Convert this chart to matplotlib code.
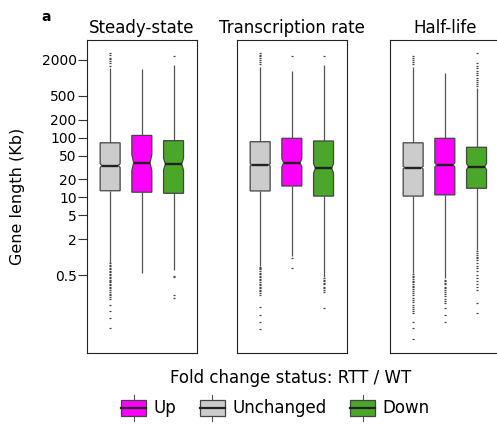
import matplotlib
matplotlib.use('Agg')
import matplotlib.pyplot as plt
from matplotlib.patches import Patch, Rectangle
from matplotlib.lines import Line2D
from matplotlib.legend_handler import HandlerBase

# Panels and groups (left to right inside each panel)
PANELS = ['Steady-state', 'Transcription rate', 'Half-life']
GROUPS = ['Unchanged', 'Up', 'Down']
COLORS = ['#cccccc', '#ff00ff', '#4aa72a']

# Box statistics per panel: [Unchanged, Up, Down], gene length in Kb
MEDIAN = [[34, 38, 36], [35, 38, 30.7], [31.4, 35, 32.7]]
Q1 = [[12.9, 12.2, 11.7], [12.8, 15.5, 10.5], [10.5, 11.0, 14.2]]
Q3 = [[82, 109, 89], [85.5, 97.5, 88], [82, 97.5, 69]]
WHIS_LO = [[0.8, 0.55, 0.6], [0.71, 1.06, 0.47], [0.54, 0.44, 1.31]]
WHIS_HI = [[1470, 1400, 1650], [1545, 1325, 1650], [1545, 1200, 670]]
NOTCH_LO = [[31.5, 28.0, 28.6], [33.5, 32.5, 25.4], [29.8, 32.3, 29.0]]
NOTCH_HI = [[36.7, 52.0, 45.4], [36.6, 44.5, 37.1], [33.1, 37.9, 36.9]]

# Outliers
SS_FLIERS = [
    [1600, 1750, 1900, 2050, 2200, 2400, 2600,
     0.78, 0.74, 0.7, 0.66, 0.62, 0.59, 0.56, 0.53, 0.5, 0.47, 0.45, 0.42, 0.4,
     0.38, 0.36, 0.34, 0.32, 0.3, 0.28, 0.26, 0.245, 0.23, 0.215, 0.2,
     0.16, 0.125, 0.097, 0.064],
    [],
    [2300, 0.48, 0.46, 0.23, 0.21],
]
TR_FLIERS = [
    [1700, 1850, 2000, 2150, 2300, 2450, 2600,
     0.69, 0.65, 0.62, 0.58, 0.55, 0.52, 0.49, 0.46, 0.43, 0.41, 0.38, 0.36,
     0.34, 0.32, 0.3, 0.28, 0.265, 0.25, 0.235, 0.148, 0.107, 0.083, 0.062],
    [2300, 0.97, 0.66],
    [2300, 0.45, 0.42, 0.4, 0.37, 0.35, 0.32, 0.3, 0.28, 0.26, 0.139],
]
HL_FLIERS = [
    [1700, 1850, 2000, 2150, 2350,
     0.52, 0.49, 0.46, 0.43, 0.4, 0.38, 0.35, 0.33, 0.31, 0.29, 0.27, 0.25,
     0.23, 0.21, 0.19, 0.175, 0.16, 0.148, 0.136, 0.125, 0.116,
     0.083, 0.064, 0.042],
    [0.42, 0.4, 0.37, 0.35, 0.32, 0.3, 0.28, 0.26, 0.24, 0.22, 0.2, 0.185,
     0.17, 0.139, 0.107, 0.083],
    [720, 780, 850, 930, 1000, 1100, 1200, 1300, 1450, 1600, 1750, 2600,
     1.25, 1.18, 1.1, 1.02, 0.95, 0.88, 0.8, 0.72, 0.65, 0.58, 0.5, 0.45,
     0.4, 0.35, 0.31, 0.28, 0.17, 0.115],
]
FLIERS = [SS_FLIERS, TR_FLIERS, HL_FLIERS]

YTICKS = [0.5, 2, 5, 10, 20, 50, 100, 200, 500, 2000]
YTICK_LABELS = ['0.5', '2', '5', '10', '20', '50', '100', '200', '500', '2000']

EDGE = '#444444'
WHISK = '#555555'
MED_C = '#222222'


def draw_box(ax, pos, q1, med, q3, lo, hi, clo, chi, fliers, color):
    h = 0.315
    n = h * 0.82
    xs = [pos - h, pos + h, pos + h, pos + n, pos + h, pos + h,
          pos - h, pos - h, pos - n, pos - h]
    ys = [q1, q1, clo, med, chi, q3, q3, chi, med, clo]
    ax.vlines([pos, pos], [lo, q3], [q1, hi], color=WHISK, lw=0.9, zorder=1)
    ax.fill(xs, ys, facecolor=color, edgecolor=EDGE, lw=0.9, zorder=2)
    ax.plot([pos - n, pos + n], [med, med], color=MED_C, lw=1.7, zorder=3,
            solid_capstyle='butt')
    if fliers:
        ax.plot([pos] * len(fliers), fliers, '_', ms=2.0, mew=0.9,
                color='#444444', zorder=1)


class BoxHandler(HandlerBase):
    def create_artists(self, legend, orig_handle, xdescent, ydescent,
                       width, height, fontsize, trans):
        x0, y0 = -xdescent, -ydescent
        xm = x0 + width / 2
        box = Rectangle((x0, y0 + 0.2 * height), width, 0.6 * height,
                        facecolor=orig_handle.get_facecolor(), edgecolor=EDGE,
                        lw=0.9, transform=trans)
        med = Line2D([x0, x0 + width], [y0 + height / 2] * 2, color=MED_C,
                     lw=1.6, transform=trans)
        top = Line2D([xm, xm], [y0 + 0.8 * height, y0 + height], color=WHISK,
                     lw=0.8, transform=trans)
        bot = Line2D([xm, xm], [y0, y0 + 0.2 * height], color=WHISK,
                     lw=0.8, transform=trans)
        return [top, bot, box, med]


fig = plt.figure(figsize=(4.97, 4.26), dpi=100)
W, H = 497, 426
lefts = [87, 237, 390]

for i, name in enumerate(PANELS):
    ax = fig.add_axes([lefts[i] / W, 1 - 353 / H, 110 / W, 313 / H])
    ax.set_yscale('log')
    for j in range(3):
        draw_box(ax, j + 1, Q1[i][j], MEDIAN[i][j], Q3[i][j],
                 WHIS_LO[i][j], WHIS_HI[i][j], NOTCH_LO[i][j], NOTCH_HI[i][j],
                 FLIERS[i][j], COLORS[j])
    ax.set_xlim(0.27, 3.74)
    ax.set_ylim(0.0247, 4325)
    ax.set_xticks([])
    ax.minorticks_off()
    ax.yaxis.set_minor_locator(matplotlib.ticker.NullLocator())
    for s in ax.spines.values():
        s.set_linewidth(0.8)
        s.set_color('#222222')
    ax.set_title(name, fontsize=12, pad=5)
    if i == 0:
        ax.set_yticks(YTICKS)
        ax.set_yticklabels(YTICK_LABELS, fontsize=10)
        ax.tick_params(axis='y', length=6.5, width=0.8, pad=1, color='#333333')
    else:
        ax.set_yticks([])

fig.text(18 / W, 1 - 196.5 / H, 'Gene length (Kb)', rotation=90,
         ha='center', va='center', fontsize=11.5)
fig.text(46 / W, 1 - 17 / H, 'a', weight='bold', fontsize=10,
         ha='center', va='center')

# Legend
fig.text(291 / W, 1 - 378 / H, 'Fold change status: RTT / WT',
         ha='center', va='center', fontsize=12)
leg_order = [1, 0, 2]
handles = [Patch(facecolor=COLORS[k]) for k in leg_order]
labels = [GROUPS[k] for k in leg_order]
fig.legend(handles, labels, handler_map={Patch: BoxHandler()},
           loc='center', bbox_to_anchor=(275.5 / W, 1 - 408 / H), ncol=3,
           frameon=False, fontsize=12, handlelength=1.5, handleheight=2.0,
           handletextpad=0.45, columnspacing=1.4, borderpad=0)

fig.savefig('out.png', dpi=100)
